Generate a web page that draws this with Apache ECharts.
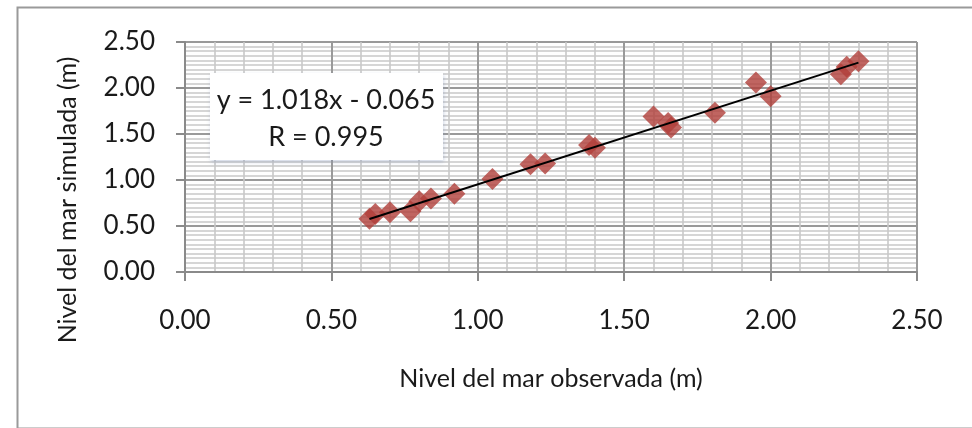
<!DOCTYPE html>
<html>
<head>
<meta charset="utf-8">
<script src="https://cdn.jsdelivr.net/npm/echarts@6/dist/echarts.min.js"></script>
<style>
html,body{margin:0;padding:0;background:#fff;}
#c{width:972px;height:428px;}
</style>
</head>
<body>
<div id="c"></div>
<script>
// Observed (x) and simulated (y) sea level, m
const observed  = [0.63, 0.65, 0.70, 0.77, 0.80, 0.84, 0.92, 1.05, 1.18, 1.23, 1.38, 1.40, 1.60, 1.65, 1.66, 1.81, 1.95, 2.00, 2.24, 2.26, 2.30];
const simulated = [0.58, 0.63, 0.65, 0.66, 0.77, 0.80, 0.85, 1.01, 1.17, 1.18, 1.38, 1.35, 1.69, 1.62, 1.57, 1.73, 2.06, 1.91, 2.15, 2.23, 2.29];
// Trendline end points (as drawn)
const trendX = [0.63, 2.30];
const trendY = [0.576, 2.276];
const axisTicks = ['0.00', '0.50', '1.00', '1.50', '2.00', '2.50'];
const eqLine1 = 'y = 1.018x - 0.065';
const eqLine2 = 'R = 0.995';

const points = observed.map((x, i) => [x, simulated[i]]);
const trend = trendX.map((x, i) => [x, trendY[i]]);
const FONT = 'Lato';

const chart = echarts.init(document.getElementById('c'), null, {renderer: 'canvas'});
const axisCommon = {
  type: 'value', min: 0, max: 2.5, interval: 0.5,
  axisLine: {show: true, onZero: false, lineStyle: {color: '#8a8a8a', width: 2}},
  axisTick: {show: true, length: 9, lineStyle: {color: '#8a8a8a', width: 2}},
  splitLine: {show: true, lineStyle: {color: '#9a9a9a', width: 2}},
  minorSplitLine: {show: true, lineStyle: {color: '#c8c8c8', width: 1.6}},
  axisLabel: {fontFamily: FONT, fontSize: 26, color: '#1a1a1a',
    formatter: v => axisTicks[Math.round(v / 0.5)] }
};
chart.setOption({
  animation: false,
  backgroundColor: '#fff',
  grid: {left: 185, right: 55, top: 42, bottom: 156, containLabel: false},
  xAxis: Object.assign({}, axisCommon, {
    minorTick: {show: false, splitNumber: 5},
    axisLabel: Object.assign({}, axisCommon.axisLabel, {margin: 36}),
    name: 'Nivel del mar observada (m)', nameLocation: 'middle', nameGap: 94,
    nameTextStyle: {fontFamily: FONT, fontSize: 25, color: '#1a1a1a'}
  }),
  yAxis: Object.assign({}, axisCommon, {
    minorTick: {show: false, splitNumber: 10},
    axisLabel: Object.assign({}, axisCommon.axisLabel, {margin: 30})
  }),
  graphic: [
    {type: 'rect', left: 15, top: 5, shape: {width: 960, height: 421},
     style: {fill: 'none', stroke: '#9a9a9a', lineWidth: 2}, silent: true, z: -1},
    {type: 'text', x: 68, y: 200, rotation: Math.PI / 2,
     style: {text: 'Nivel del mar simulada (m)', fontFamily: FONT, fontSize: 25, fill: '#1a1a1a',
             align: 'center', verticalAlign: 'middle'}},
    {type: 'rect', shape: {x: 210, y: 73, width: 233, height: 87},
     style: {fill: '#fff', shadowBlur: 4, shadowColor: 'rgba(120,140,180,0.35)', shadowOffsetX: 1, shadowOffsetY: 2}, z: 100},
    {type: 'text', x: 326, y: 100, z: 101,
     style: {text: eqLine1, fontFamily: FONT, fontSize: 27, fill: '#1a1a1a', align: 'center', verticalAlign: 'middle'}},
    {type: 'text', x: 326, y: 137, z: 101,
     style: {text: eqLine2, fontFamily: FONT, fontSize: 27, fill: '#1a1a1a', align: 'center', verticalAlign: 'middle'}}
  ],
  series: [
    {type: 'scatter', data: points, symbol: 'path://M0,-1L1,0L0,1L-1,0Z', symbolSize: 22,
     itemStyle: {color: '#b03f3a'}, z: 3},
    {type: 'line', data: trend, symbol: 'none', lineStyle: {color: '#000', width: 2}, z: 4}
  ]
});
</script>
</body>
</html>
